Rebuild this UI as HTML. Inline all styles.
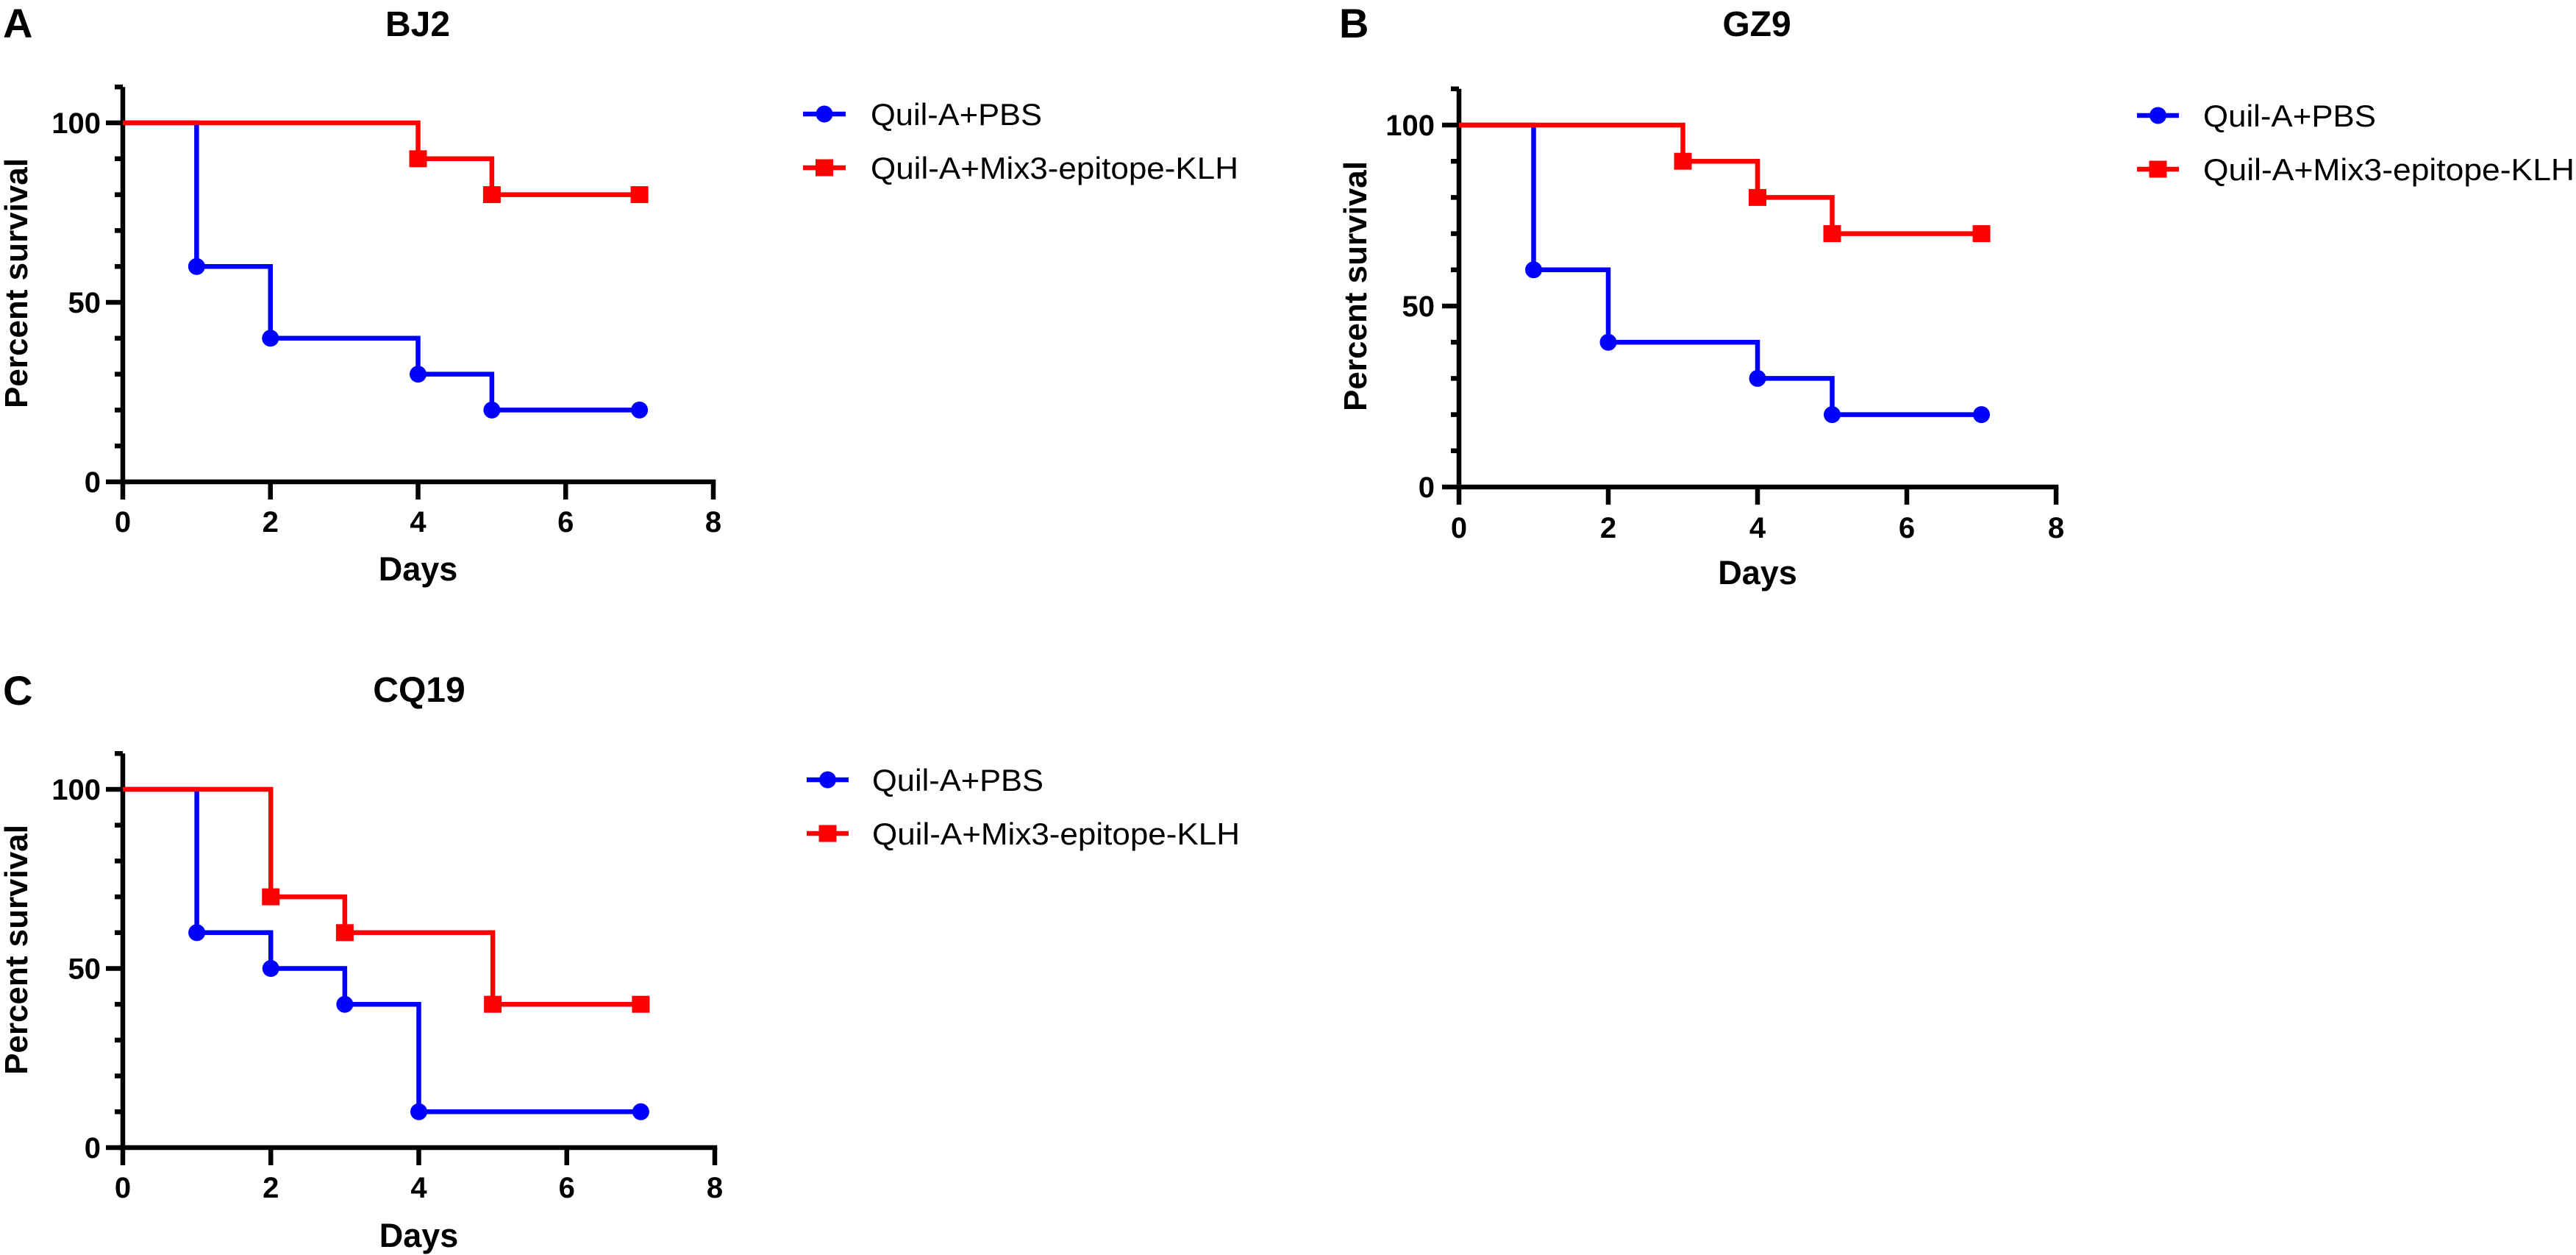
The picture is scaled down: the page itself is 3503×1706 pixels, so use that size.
<!DOCTYPE html>
<html><head><meta charset="utf-8"><style>
html,body{margin:0;padding:0;background:#fff;}
svg{display:block;font-family:"Liberation Sans",Arial,sans-serif;}
</style></head><body>
<svg id="fig" width="3503" height="1706" viewBox="0 0 3503 1706" xmlns="http://www.w3.org/2000/svg"></svg>
<script>
// ---- data ----
const panelTitles = ["BJ2", "GZ9", "CQ19"];
const panelLetters = ["A", "B", "C"];
const seriesNames = ["Quil-A+PBS", "Quil-A+Mix3-epitope-KLH"];
const xTicks = [0, 2, 4, 6, 8];
const yMajorTicks = [0, 50, 100];
const yMinorTicks = [0,10,20,30,40,50,60,70,80,90,100,110];

const bj2PbsDays = [0, 1, 2, 4, 5, 7];
const bj2PbsSurv = [100, 60, 40, 30, 20, 20];
const bj2KlhDays = [0, 4, 5, 7];
const bj2KlhSurv = [100, 90, 80, 80];

const gz9PbsDays = [0, 1, 2, 4, 5, 7];
const gz9PbsSurv = [100, 60, 40, 30, 20, 20];
const gz9KlhDays = [0, 3, 4, 5, 7];
const gz9KlhSurv = [100, 90, 80, 70, 70];

const cq19PbsDays = [0, 1, 2, 3, 4, 7];
const cq19PbsSurv = [100, 60, 50, 40, 10, 10];
const cq19KlhDays = [0, 2, 3, 5, 7];
const cq19KlhSurv = [100, 70, 60, 40, 40];

const NS = "http://www.w3.org/2000/svg";
const svg = document.getElementById("fig");
function mk(tag, attrs, parent) {
  const e = document.createElementNS(NS, tag);
  for (const k in attrs) e.setAttribute(k, attrs[k]);
  (parent || svg).appendChild(e);
  return e;
}
const BLUE = "#0000ff", RED = "#ff0000";
const LW = 6.5;

const layouts = [
  {x0:167, x8:970, y0:655, y100:167, titleX:568, titleY:49, letX:4, letY:51, xlabY:723, daysY:789, ylabR:137, psX:21, psY:385, legLine:[1092,1150], legText:1184, legY:[155,228], legW:500},
  {x0:1984, x8:2796, y0:662, y100:170, titleX:2389, titleY:49, letX:1821, letY:51, xlabY:731, daysY:794, ylabR:1951, psX:1842, psY:389, legLine:[2906,2963], legText:2996, legY:[157,230], legW:505},
  {x0:167, x8:972, y0:1560, y100:1073, titleX:570, titleY:954, letX:4, letY:958, xlabY:1628, daysY:1695, ylabR:137, psX:21, psY:1291, legLine:[1097,1154], legText:1186, legY:[1060,1133], legW:500}
];
const panelData = [
  [[bj2PbsDays, bj2PbsSurv], [bj2KlhDays, bj2KlhSurv]],
  [[gz9PbsDays, gz9PbsSurv], [gz9KlhDays, gz9KlhSurv]],
  [[cq19PbsDays, cq19PbsSurv], [cq19KlhDays, cq19KlhSurv]]
];

function marker(g, kind, cx, cy, color) {
  let m;
  if (kind === 0) {
    m = mk("ellipse", {cx:cx, cy:cy, rx:11.5, ry:11.5, fill:color}, g);
  } else {
    m = mk("rect", {x:cx-12, y:cy-11.5, width:24, height:23, fill:color}, g);
  }
  return m;
}

layouts.forEach((L, p) => {
  const g = mk("g", {});
  
  
  const sx = v => L.x0 + (L.x8 - L.x0) * v / 8;
  const sy = v => L.y0 + (L.y100 - L.y0) * v / 100;

  const letter = mk("text", {x:L.letX, y:L.letY, "font-size":56, "font-weight":"bold"}, g);
  letter.textContent = panelLetters[p];
  
  

  const title = mk("text", {x:L.titleX, y:L.titleY, "font-size":48, "font-weight":"bold", "text-anchor":"middle"}, g);
  title.textContent = panelTitles[p];
  
  

  const axes = mk("g", {stroke:"#000", "stroke-width":LW, fill:"none"}, g);
  
  
  mk("line", {x1:L.x0, y1:sy(110), x2:L.x0, y2:L.y0 + LW/2}, axes);
  mk("line", {x1:L.x0 - LW/2, y1:L.y0, x2:L.x8 + LW/2, y2:L.y0}, axes);
  yMinorTicks.forEach(t => {
    const major = yMajorTicks.indexOf(t) >= 0;
    mk("line", {x1:L.x0 - (major ? 23 : 11), y1:sy(t), x2:L.x0, y2:sy(t)}, axes);
  });
  xTicks.forEach(t => {
    mk("line", {x1:sx(t), y1:L.y0, x2:sx(t), y2:L.y0 + 24}, axes);
  });
  yMajorTicks.forEach(t => {
    const tl = mk("text", {x:L.ylabR, y:sy(t) + 14, "font-size":40, "font-weight":"bold", "text-anchor":"end"}, g);
    tl.textContent = t;
    
    
  });
  xTicks.forEach(t => {
    const tl = mk("text", {x:sx(t), y:L.xlabY, "font-size":40, "font-weight":"bold", "text-anchor":"middle"}, g);
    tl.textContent = t;
    
    
  });
  const xt = mk("text", {x:(L.x0 + L.x8) / 2, y:L.daysY, "font-size":45, "font-weight":"bold", "text-anchor":"middle"}, g);
  xt.textContent = "Days";
  
  
  const yt = mk("text", {x:0, y:0, "font-size":44, "font-weight":"bold", "text-anchor":"middle", transform:"translate(" + (L.psX + 16) + "," + L.psY + ") rotate(-90)"}, g);
  yt.textContent = "Percent survival";
  
  

  panelData[p].forEach((ser, si) => {
    const days = ser[0], surv = ser[1];
    const color = si === 0 ? BLUE : RED;
    const sg = mk("g", {}, g);
    
    
    let d = "M" + sx(days[0]) + "," + sy(surv[0]);
    for (let i = 1; i < days.length; i++) {
      d += " H" + sx(days[i]) + " V" + sy(surv[i]);
    }
    mk("path", {d:d, stroke:color, "stroke-width":LW, fill:"none"}, sg);
    for (let i = 1; i < days.length; i++) {
      const m = marker(sg, si, sx(days[i]), sy(surv[i]), color);
      
      
    }
  });

  const lg = mk("g", {}, g);
  
  
  seriesNames.forEach((nm, si) => {
    const color = si === 0 ? BLUE : RED;
    const cy = L.legY[si];
    const eg = mk("g", {}, lg);
    
    
    mk("line", {x1:L.legLine[0], y1:cy, x2:L.legLine[1], y2:cy, stroke:color, "stroke-width":LW}, eg);
    marker(eg, si, (L.legLine[0] + L.legLine[1]) / 2, cy, color);
    const attrs = {x:L.legText, y:cy + 15, "font-size":42};
    if (si === 1) { attrs.textLength = L.legW; attrs.lengthAdjust = "spacingAndGlyphs"; }
    else { attrs.textLength = Math.round(L.legW * 0.465); attrs.lengthAdjust = "spacingAndGlyphs"; }
    const t = mk("text", attrs, eg);
    t.textContent = nm;
  });
});
</script>
</body></html>
